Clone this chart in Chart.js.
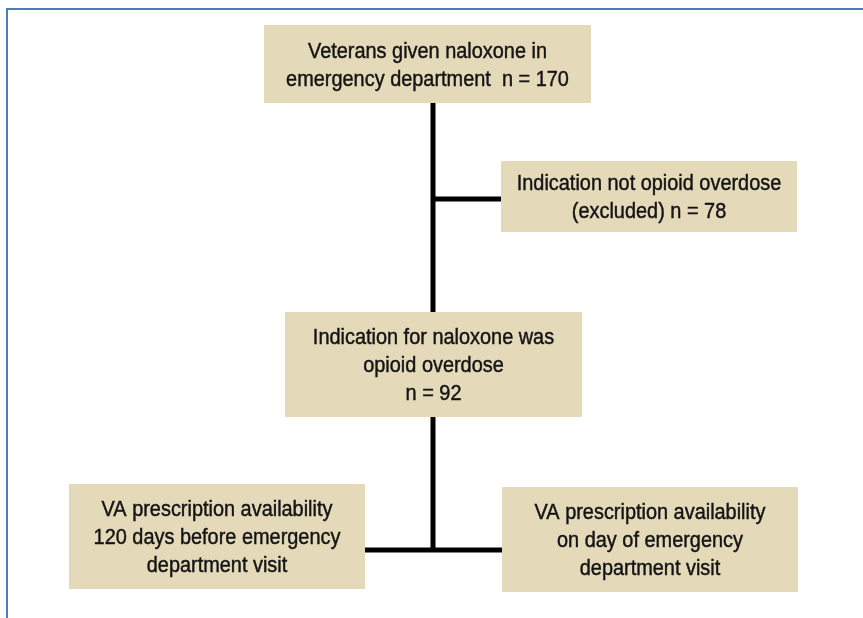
<!DOCTYPE html>
<html>
<head>
<meta charset="utf-8">
<script src="https://cdn.jsdelivr.net/npm/chart.js@4"></script>
<style>
  html, body { margin: 0; padding: 0; background: #fff; }
  #wrap { position: relative; width: 863px; height: 618px; overflow: hidden; }
  #frame { position: absolute; left: 6px; top: 8px; width: 900px; height: 700px;
           border-top: 2px solid #4a7ebb; border-left: 2px solid #4a7ebb; }
  #flow { position: absolute; left: 0; top: 0; }
</style>
</head>
<body>
<div id="wrap">
  <div id="frame"></div>
  <canvas id="flow" width="863" height="618"></canvas>
</div>
<script>
// Flow stages (text) and counts
const stageLabels = [
  ['Veterans given naloxone in', 'emergency department  n = {n}'],
  ['Indication not opioid overdose', '(excluded) n = {n}'],
  ['Indication for naloxone was', 'opioid overdose', 'n = {n}'],
  ['VA prescription availability', '120 days before emergency', 'department visit'],
  ['VA prescription availability', 'on day of emergency', 'department visit'],
]
const stageCounts = [170, 78, 92, null, null]

// Layout of the boxes, in chart units (x1, y1, x2, y2)
const boxLayout = [
  [264, 25, 591, 103],
  [501, 161, 797, 232],
  [285, 312, 582, 417],
  [69, 484, 365, 589],
  [502, 487, 798, 592],
]

// Connectors between boxes
const connectors = [
  [[433, 103], [433, 312]],
  [[433, 199], [501, 199]],
  [[433, 417], [433, 550]],
  [[365, 550], [502, 550]],
]

const boxFill = '#e4dab9'
const lineColor = '#000000'
const textColor = '#141414'

const boxDatasets = boxLayout.map(([x1, y1, x2, y2]) => ({
  data: [{ x: x1, y: y1 }, { x: x2, y: y1 }, { x: x2, y: y2 }, { x: x1, y: y2 }, { x: x1, y: y1 }],
  showLine: true,
  fill: 'shape',
  backgroundColor: boxFill,
  borderWidth: 0,
  pointRadius: 0,
  order: 1,
}))

const lineDatasets = connectors.map((seg) => ({
  data: seg.map(([x, y]) => ({ x, y })),
  showLine: true,
  fill: false,
  borderColor: lineColor,
  borderWidth: 5,
  borderCapStyle: 'butt',
  pointRadius: 0,
  order: 2,
}))

// box text, placed through the scales (condensed by a horizontal squeeze)
const boxText = {
  id: 'boxText',
  afterDatasetsDraw(chart) {
    const { ctx, scales } = chart
    const fontSize = 22
    const capH = fontSize * 0.716
    const lineH = 28
    const squeeze = 0.905

    ctx.save()
    ctx.font = fontSize + 'px "Liberation Sans", Arial, sans-serif'
    ctx.fillStyle = textColor
    ctx.strokeStyle = textColor
    ctx.lineWidth = 0.45
    ctx.textAlign = 'center'
    ctx.textBaseline = 'alphabetic'

    stageLabels.forEach((lines, i) => {
      const [x1, y1, x2, y2] = boxLayout[i]
      const cx = (scales.x.getPixelForValue(x1) + scales.x.getPixelForValue(x2)) / 2
      const cy = (scales.y.getPixelForValue(y1) + scales.y.getPixelForValue(y2)) / 2
      const firstBase = cy + capH / 2 - (lines.length - 1) * lineH / 2
      lines.forEach((line, j) => {
        const text = line.replace('{n}', stageCounts[i])
        ctx.save()
        ctx.translate(cx, firstBase + j * lineH)
        ctx.scale(squeeze, 1)
        ctx.fillText(text, 0, 0)
        ctx.strokeText(text, 0, 0)
        ctx.restore()
      })
    })
    ctx.restore()
  },
}

new Chart(document.getElementById('flow'), {
  type: 'scatter',
  data: { datasets: [...lineDatasets, ...boxDatasets] },
  options: {
    responsive: false,
    animation: false,
    layout: { padding: 0 },
    scales: {
      x: { type: 'linear', min: 0, max: 863, display: false },
      y: { type: 'linear', min: 0, max: 618, reverse: true, display: false },
    },
    plugins: {
      legend: { display: false },
      tooltip: { enabled: false },
    },
  },
  plugins: [boxText],
})
</script>
</body>
</html>
